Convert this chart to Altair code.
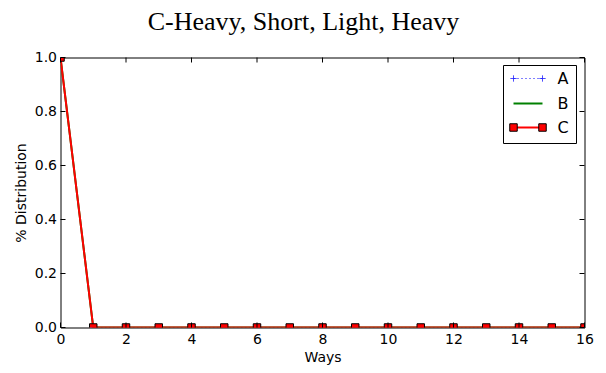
import altair as alt
import pandas as pd

# ---- data ----
ways = [0, 1, 2, 3, 4, 5, 6, 7, 8, 9, 10, 11, 12, 13, 14, 15, 16]
series_a = [1.0, 0.0, 0.0, 0.0, 0.0, 0.0, 0.0, 0.0, 0.0, 0.0, 0.0, 0.0, 0.0, 0.0, 0.0, 0.0, 0.0]
series_b = [1.0, 0.0, 0.0, 0.0, 0.0, 0.0, 0.0, 0.0, 0.0, 0.0, 0.0, 0.0, 0.0, 0.0, 0.0, 0.0, 0.0]
series_c = [1.0, 0.0, 0.0, 0.0, 0.0, 0.0, 0.0, 0.0, 0.0, 0.0, 0.0, 0.0, 0.0, 0.0, 0.0, 0.0, 0.0]
series_names = ["A", "B", "C"]
x_ticks = [0, 2, 4, 6, 8, 10, 12, 14, 16]
y_ticks = [0.0, 0.2, 0.4, 0.6, 0.8, 1.0]
title_text = "C-Heavy, Short, Light, Heavy"

W, H = 524, 270
BLUE, GREEN, RED = "#0000ff", "#008000", "#ff0000"
FONT = "DejaVu Sans"
FS = 14

df = pd.DataFrame({
    "ways": ways * 3,
    "value": series_a + series_b + series_c,
    "series": ["A"] * len(ways) + ["B"] * len(ways) + ["C"] * len(ways),
})

xscale = alt.Scale(domain=[0, 16], nice=False, zero=False)
yscale = alt.Scale(domain=[0, 1], nice=False)

xaxis = alt.Axis(values=x_ticks, format="d", ticks=False, domain=False, grid=False,
                 labelFlush=False, labelOverlap=False,
                 labelFont=FONT, labelFontSize=FS, labelColor="black", labelPadding=5,
                 title="Ways", titleFont=FONT, titleFontSize=FS, titleFontWeight="normal",
                 titleColor="black", titlePadding=4)
yaxis = alt.Axis(values=y_ticks, format=".1f", ticks=False, domain=False, grid=False,
                 labelFlush=False, labelOverlap=False,
                 labelFont=FONT, labelFontSize=FS, labelColor="black", labelPadding=4,
                 title="% Distribution", titleFont=FONT, titleFontSize=FS, titleFontWeight="normal",
                 titleColor="black", titlePadding=6)

def sel(name):
    return alt.datum.series == name

line_a = alt.Chart(df).transform_filter(sel("A")).mark_line(
    color=BLUE, strokeWidth=1, strokeDash=[1, 3], clip=True
).encode(x=alt.X("ways:Q", scale=xscale, axis=xaxis), y=alt.Y("value:Q", scale=yscale, axis=yaxis))

pts_a = alt.Chart(df).transform_filter(sel("A")).mark_point(
    shape="M-1,0L1,0M0,-1L0,1", color=BLUE, filled=False, strokeWidth=1, size=40, clip=True
).encode(x=alt.X("ways:Q", scale=xscale), y=alt.Y("value:Q", scale=yscale))

line_b = alt.Chart(df).transform_filter(sel("B")).mark_line(
    color=GREEN, strokeWidth=2, clip=True
).encode(x=alt.X("ways:Q", scale=xscale), y=alt.Y("value:Q", scale=yscale))

line_c = alt.Chart(df).transform_filter(sel("C")).mark_line(
    color=RED, strokeWidth=2, clip=True
).encode(x=alt.X("ways:Q", scale=xscale), y=alt.Y("value:Q", scale=yscale))

pts_c = alt.Chart(df).transform_filter(sel("C")).mark_point(
    shape="square", fill=RED, stroke="black", strokeWidth=1, filled=True, opacity=1,
    size=56, clip=True
).encode(x=alt.X("ways:Q", scale=xscale), y=alt.Y("value:Q", scale=yscale))

# inward ticks on all four sides
xt = pd.DataFrame({"t": x_ticks})
yt = pd.DataFrame({"t": y_ticks})
TL = 5
tick_bottom = alt.Chart(xt).mark_rule(color="black", strokeWidth=1).encode(
    x=alt.X("t:Q", scale=xscale), y=alt.value(H), y2=alt.value(H - TL))
tick_top = alt.Chart(xt).mark_rule(color="black", strokeWidth=1).encode(
    x=alt.X("t:Q", scale=xscale), y=alt.value(0), y2=alt.value(TL))
tick_left = alt.Chart(yt).mark_rule(color="black", strokeWidth=1).encode(
    y=alt.Y("t:Q", scale=yscale), x=alt.value(0), x2=alt.value(TL))
tick_right = alt.Chart(yt).mark_rule(color="black", strokeWidth=1).encode(
    y=alt.Y("t:Q", scale=yscale), x=alt.value(W), x2=alt.value(W - TL))

# manual legend (matplotlib style)
one = pd.DataFrame({"k": [0]})
LX0, LX1, LY0, LY1 = 443, 516, 8, 86
LL0, LL1, LT = 453, 482, 497
rows_y = [21, 46, 70]
legend_layers = [
    alt.Chart(one).mark_rect(fill="white", stroke="black", strokeWidth=1).encode(
        x=alt.value(LX0), x2=alt.value(LX1), y=alt.value(LY0), y2=alt.value(LY1))
]
styles = [
    dict(color=BLUE, width=1, dash=[1, 3]),
    dict(color=GREEN, width=2, dash=None),
    dict(color=RED, width=2, dash=None),
]
for name, ry, st in zip(series_names, rows_y, styles):
    kw = dict(color=st["color"], strokeWidth=st["width"])
    if st["dash"]:
        kw["strokeDash"] = st["dash"]
    legend_layers.append(alt.Chart(one).mark_rule(**kw).encode(
        x=alt.value(LL0), x2=alt.value(LL1), y=alt.value(ry)))
    if name == "A":
        for px in (LL0, LL1):
            legend_layers.append(alt.Chart(one).mark_point(
                shape="M-1,0L1,0M0,-1L0,1", color=BLUE, filled=False, strokeWidth=1, size=40
            ).encode(x=alt.value(px), y=alt.value(ry)))
    if name == "C":
        for px in (LL0, LL1):
            legend_layers.append(alt.Chart(one).mark_point(
                shape="square", fill=RED, stroke="black", strokeWidth=1, filled=True,
                opacity=1, size=56
            ).encode(x=alt.value(px), y=alt.value(ry)))
    legend_layers.append(alt.Chart(one).mark_text(
        text=name, align="left", baseline="middle", font=FONT, fontSize=16, color="black"
    ).encode(x=alt.value(LT), y=alt.value(ry)))

chart = alt.layer(
    line_a, pts_a, line_b, line_c, pts_c,
    tick_bottom, tick_top, tick_left, tick_right,
    *legend_layers
).properties(
    width=W, height=H,
    title=alt.TitleParams(title_text, font="Liberation Serif", fontSize=26, fontWeight="normal",
                          color="black", anchor="middle", frame="group", offset=16, dx=-19),
    autosize=alt.AutoSizeParams(type="none"),
    padding={"left": 52.5, "top": 49.5, "right": 13.5, "bottom": 37.5},
    background="white",
).configure_view(stroke="black", strokeWidth=1)

chart.save("out.html", embed_options={"renderer": "svg", "actions": False})
